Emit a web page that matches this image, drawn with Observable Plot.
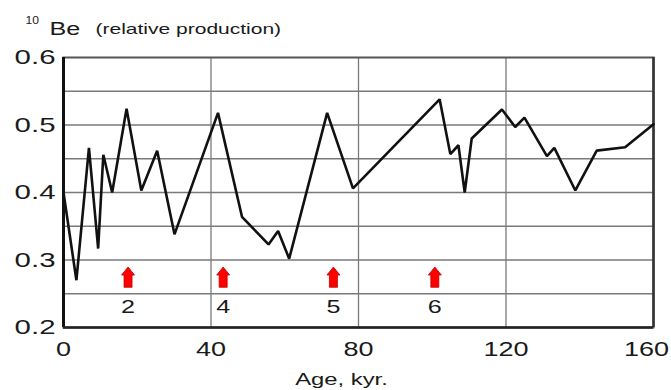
<!DOCTYPE html>
<html>
<head>
<meta charset="utf-8">
<script src="https://cdn.jsdelivr.net/npm/d3@7"></script>
<script src="https://cdn.jsdelivr.net/npm/@observablehq/plot@0.6"></script>
<style>
  html, body { margin: 0; padding: 0; background: #fff; }
  #chart svg { font-family: "Liberation Sans", Arial, sans-serif; display: block; }
</style>
</head>
<body>
<div id="chart"></div>
<script>
// Age (kyr) and relative 10Be production
const ages = [0, 3.5, 6.9, 9.4, 10.8, 13.2, 17.1, 21.1, 25.4, 30.1, 41.9, 48.4, 55.6, 58.2, 61.2, 71.5, 78.5, 102, 104.9, 107.1, 108.8, 110.7, 118.9, 122.5, 125, 131.1, 133.1, 138.8, 144.6, 152.3, 160];
const be   = [0.40, 0.27, 0.466, 0.317, 0.456, 0.40, 0.524, 0.403, 0.462, 0.338, 0.518, 0.364, 0.323, 0.343, 0.302, 0.518, 0.406, 0.538, 0.457, 0.47, 0.40, 0.48, 0.523, 0.497, 0.511, 0.454, 0.466, 0.403, 0.462, 0.467, 0.501];
const arrowAges = [17.5, 43.3, 73.2, 100.7];
const arrowLabels = ["2", "4", "5", "6"];
const xTicks = [0, 40, 80, 120];
const xTickLast = [160];
const yTicks = [0.2, 0.3, 0.4, 0.5, 0.6];
const xGrid = [40, 80, 120];
const yGrid = [0.25, 0.3, 0.35, 0.4, 0.45, 0.5, 0.55];
const arrowBase = 0.26;
const labelLevel = 0.23;

const series = ages.map((a, i) => ({age: a, be: be[i]}));
const arrows = arrowAges.map((a, i) => ({age: a, label: arrowLabels[i]}));

const blockArrow = {
  draw(context, l) {
    const hw = 6.5, sw = 4, hh = 8;
    context.moveTo(-sw, 0);
    context.lineTo(-sw, -(l - hh));
    context.lineTo(-hw, -(l - hh));
    context.lineTo(0, -l);
    context.lineTo(hw, -(l - hh));
    context.lineTo(sw, -(l - hh));
    context.lineTo(sw, 0);
    context.closePath();
  }
};

const plot = Plot.plot({
  width: 671,
  height: 390,
  marginTop: 57,
  marginLeft: 63,
  marginRight: 18,
  marginBottom: 63,
  style: {fontFamily: "Liberation Sans, Arial, sans-serif", color: "#1a1a1a", background: "#fff"},
  x: {domain: [0, 160]},
  y: {domain: [0.2, 0.6]},
  marks: [
    Plot.gridX(xGrid, {stroke: "#7a7a7a", strokeOpacity: 1, strokeWidth: 1.3}),
    Plot.gridY(yGrid, {stroke: "#7a7a7a", strokeOpacity: 1, strokeWidth: 1.3}),
    Plot.frame({stroke: "#555", strokeWidth: 2}),
    Plot.ruleX([0], {stroke: "#111", strokeWidth: 3}),
    Plot.ruleX([160], {stroke: "#333", strokeWidth: 2.5}),
    Plot.ruleY([0.2], {stroke: "#222", strokeWidth: 2.5}),
    Plot.axisY(yTicks, {tickSize: 0, tickPadding: 8, fontSize: 21, tickFormat: d3.format(".1f"), label: null, className: "stretch"}),
    Plot.axisX(xTicks, {tickSize: 0, tickPadding: 14, fontSize: 20, label: null, className: "stretchx"}),
    Plot.axisX(xTickLast, {tickSize: 0, tickPadding: 14, fontSize: 20, dx: -7, label: null, className: "stretchx"}),
    Plot.line(series, {x: "age", y: "be", stroke: "#111", strokeWidth: 2.6, strokeLinejoin: "miter"}),
    Plot.vector(arrows, {x: "age", y: () => arrowBase, length: 20, anchor: "start", shape: blockArrow, fill: "#ff0000", stroke: "#c00000", strokeWidth: 0.8}),
    Plot.text(arrows, {x: "age", y: () => labelLevel, text: "label", fontSize: 18, fill: "#1a1a1a", className: "stretch"}),
    Plot.text(["10"], {text: d => d, frameAnchor: "top-left", dx: -38, dy: -37, textAnchor: "start", lineAnchor: "middle", fontSize: 11, fill: "#1a1a1a", className: "sup"}),
    Plot.text(["Be"], {text: d => d, frameAnchor: "top-left", dx: -14, dy: -28.5, textAnchor: "start", lineAnchor: "middle", fontSize: 18, fill: "#1a1a1a", className: "stretch"}),
    Plot.text(["(relative production)"], {text: d => d, frameAnchor: "top-left", dx: 32, dy: -28.5, textAnchor: "start", lineAnchor: "middle", fontSize: 15, fill: "#1a1a1a", className: "stretch"}),
    Plot.text(["Age, kyr."], {text: d => d, frameAnchor: "bottom", dx: -17, dy: 52, textAnchor: "middle", lineAnchor: "middle", fontSize: 17, fill: "#1a1a1a", className: "stretch"})
  ]
});

document.getElementById("chart").appendChild(plot);

function stretch(sel, ratio) {
  plot.querySelectorAll(sel + " text").forEach(t => {
    const len = t.getComputedTextLength();
    if (len > 0) {
      t.setAttribute("textLength", (len * ratio).toFixed(1));
      t.setAttribute("lengthAdjust", "spacingAndGlyphs");
    }
  });
}
stretch(".stretch", 1.4);
stretch(".stretchx", 1.35);
stretch(".sup", 1.1);
</script>
</body>
</html>
